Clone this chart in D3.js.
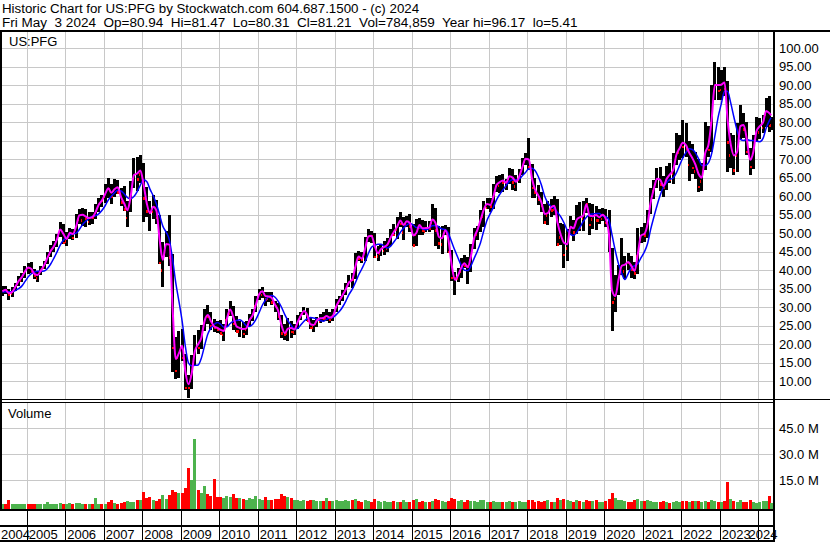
<!DOCTYPE html>
<html><head><meta charset="utf-8">
<script src="https://cdn.jsdelivr.net/npm/d3@7"></script>
<style>
html,body{margin:0;padding:0;background:#fff;}
svg{display:block;}
</style></head><body>
<svg id="c" width="830" height="543"></svg>
<script>
// ---- data (monthly, May 2004 .. May 2024) ----
const highs = [
35.6,35.8,35.0,35.4,36.6,38.4,39.2,41.2,
42.0,42.2,40.2,39.6,41.2,42.4,44.8,46.8,47.8,49.8,53.0,52.6,
50.2,51.4,51.2,55.2,56.6,56.8,56.4,55.6,55.8,58.0,59.6,60.4,
63.4,64.8,63.4,64.6,64.4,62.2,62.8,58.6,64.2,70.2,70.6,71.0,
69.0,62.6,58.6,60.4,59.0,55.0,47.6,50.6,54.8,44.5,22.0,23.6,
24.0,17.4,11.6,17.2,22.6,23.8,25.2,29.6,30.6,28.8,26.8,26.4,
26.6,25.4,29.4,31.6,30.4,27.6,26.4,26.0,26.2,28.2,29.4,33.0,
35.0,35.4,34.2,34.0,34.2,31.6,31.2,27.8,25.4,27.2,26.4,25.4,
27.8,28.8,30.0,29.8,27.2,26.6,27.4,28.2,28.6,29.4,28.6,29.4,
32.2,33.0,34.6,36.6,38.6,39.2,44.6,45.2,44.8,49.0,51.0,50.6,
50.0,46.6,47.0,48.0,48.6,51.2,52.6,54.4,55.8,54.4,54.6,55.2,
52.4,53.8,54.2,53.6,53.4,53.4,57.8,56.8,52.0,52.0,52.2,51.8,
45.4,39.6,40.6,43.4,44.2,43.6,47.2,51.4,52.0,56.2,58.8,59.6,
59.4,63.4,65.4,65.6,66.0,64.6,67.6,67.4,65.6,67.2,70.2,71.6,
75.6,68.6,64.8,63.0,61.0,58.0,58.6,59.2,60.0,59.2,52.8,52.4,
51.2,54.6,53.6,57.6,58.4,58.6,59.6,58.2,57.8,57.4,56.4,56.8,
56.4,56.2,46.0,38.6,41.4,48.6,43.8,44.6,43.8,42.2,51.4,51.6,
52.8,56.2,62.2,64.4,67.6,68.0,65.4,68.2,69.0,71.6,77.0,76.4,
80.6,79.8,75.0,74.0,72.0,70.0,69.0,80.0,79.0,90.0,96.2,95.0,
94.0,95.0,91.0,77.0,76.6,79.8,84.6,82.4,80.0,73.0,76.6,81.4,
81.2,82.0,86.4,87.0,81.5];
const lows = [
32.9,33.6,32.0,32.8,34.4,35.6,36.9,37.9,
39.0,39.2,37.6,36.8,38.6,40.2,41.6,43.6,44.8,46.2,49.0,47.0,
46.6,48.4,48.2,48.6,52.6,52.0,51.6,52.2,52.4,53.8,55.8,57.2,
58.2,59.6,58.0,59.8,60.6,57.4,56.0,51.6,55.8,62.2,61.4,63.6,
53.0,54.4,50.6,53.8,52.4,41.8,35.4,43.6,41.0,12.5,10.5,11.0,
15.6,7.6,5.4,8.0,14.2,17.4,18.6,23.6,25.6,23.8,23.2,23.0,
22.8,21.0,24.6,27.6,23.8,23.2,22.0,21.6,22.6,25.0,26.4,28.6,
32.0,32.6,30.2,31.4,30.6,28.6,26.6,21.6,21.2,20.8,21.8,22.4,
24.2,26.6,27.8,26.2,24.0,23.4,24.6,25.8,26.2,26.4,25.8,26.4,
28.8,30.6,31.8,33.2,35.4,35.2,37.6,42.4,42.0,42.6,47.6,47.4,
43.2,42.6,43.8,44.2,45.0,46.6,49.2,48.4,51.6,48.2,51.6,50.2,
46.4,46.4,49.6,49.6,50.2,50.2,50.8,46.6,45.6,44.4,49.4,44.6,
37.2,33.4,36.8,37.8,40.6,36.4,39.6,45.8,48.2,50.2,51.8,56.4,
55.8,56.6,61.2,60.8,61.2,61.6,63.4,61.6,61.4,63.6,65.6,68.4,
67.0,59.6,59.4,57.6,55.6,52.4,52.2,54.4,54.8,46.4,46.8,40.6,
42.4,49.6,47.8,49.8,50.6,50.6,55.4,49.6,51.0,50.8,52.4,53.2,
51.6,44.8,23.5,28.6,33.4,38.6,37.6,40.0,38.0,37.6,39.0,47.4,
47.6,48.6,55.2,59.2,62.2,61.4,59.8,61.6,63.6,63.4,68.4,69.8,
70.4,70.5,64.0,66.0,64.5,61.2,61.4,67.0,70.5,72.0,86.0,86.0,
86.0,87.0,66.5,67.5,65.6,66.4,75.5,75.8,71.0,65.8,67.4,74.6,
75.4,77.0,78.6,77.4,77.8];
const closes = [
34.7,34.6,33.4,34.9,36.0,37.9,38.2,40.9,
40.6,39.6,38.5,39.3,40.6,41.9,44.6,45.6,47.4,49.6,52.3,47.4,
49.5,50.9,48.8,54.6,55.1,55.6,53.9,54.4,54.3,56.5,59.0,58.7,
62.2,62.0,60.0,63.6,61.0,58.3,56.4,57.2,63.1,67.7,64.6,68.8,
59.4,55.9,55.7,58.4,54.1,42.0,45.0,49.3,43.5,19.0,12.8,22.6,
16.4,8.3,8.2,15.6,20.4,19.0,24.2,28.2,27.4,25.0,24.4,24.0,
23.0,24.6,29.2,29.3,25.6,23.5,25.6,22.8,25.8,27.0,28.7,32.6,
34.4,34.6,32.1,33.8,31.4,30.4,27.6,23.0,22.7,25.8,23.4,24.6,
27.3,28.5,29.5,26.3,24.4,26.2,26.9,27.1,26.9,27.9,26.6,28.5,
31.6,32.3,34.0,35.6,37.6,37.5,44.0,43.2,42.8,48.4,49.5,49.3,
43.6,45.6,46.0,46.9,47.0,50.5,49.6,54.0,52.5,52.9,53.5,51.9,
46.8,53.4,51.4,50.8,51.5,51.3,55.5,50.8,47.3,50.2,51.5,45.0,
38.0,37.8,39.4,42.0,41.2,41.1,46.6,51.0,51.5,56.0,57.8,57.9,
57.3,62.8,63.0,65.3,63.8,64.0,66.8,63.8,64.4,65.9,69.7,70.6,
67.8,62.3,61.0,59.2,57.5,52.9,57.9,56.2,58.6,47.0,51.6,44.2,
50.0,53.0,50.2,57.0,51.5,58.0,57.9,52.3,57.1,53.5,55.0,55.0,
52.8,45.4,31.3,36.4,38.5,41.5,42.4,42.0,40.3,39.2,49.2,49.6,
49.5,55.6,60.0,63.9,65.4,63.2,62.2,66.9,64.4,69.2,71.3,74.3,
73.3,72.6,73.4,67.6,69.6,62.6,67.2,74.0,72.5,88.0,91.0,88.4,
92.0,89.0,74.5,75.0,67.0,76.0,80.5,78.0,72.0,68.0,76.0,78.7,
79.6,80.5,86.0,79.0,81.2];
const maFast = [
34.3,34.7,33.8,34.1,35.5,37.0,38.1,39.6,
40.7,40.3,39.0,38.7,39.9,41.3,43.2,45.1,46.4,48.3,51.0,49.8,
48.4,50.1,49.8,51.8,54.8,55.0,54.5,54.1,54.3,55.6,57.7,58.8,
60.6,62.1,60.9,61.9,62.4,59.7,58.0,56.2,60.1,65.7,66.1,66.9,
63.1,57.9,55.4,57.1,56.1,48.2,42.8,47.1,46.9,30.3,16.0,17.6,
19.6,12.4,9.2,12.1,18.1,20.0,21.7,26.3,27.9,26.2,24.8,24.4,
23.9,23.6,26.9,29.4,27.3,24.8,24.4,24.1,24.3,26.5,27.9,30.7,
33.5,34.3,33.0,32.9,32.5,30.6,29.0,25.1,23.0,24.2,24.4,24.0,
26.0,27.8,29.0,27.9,25.4,25.2,26.4,27.0,27.1,27.6,27.2,27.7,
30.2,31.9,33.2,34.8,36.7,37.4,40.9,43.7,43.1,45.7,49.1,49.3,
46.5,44.6,45.7,46.3,46.9,48.8,50.3,51.7,53.4,52.2,53.2,52.7,
49.4,50.1,52.2,51.3,51.4,51.5,53.7,52.7,49.0,48.6,50.8,48.2,
41.4,37.4,38.6,40.7,41.9,40.8,43.7,48.7,50.9,53.6,56.4,57.9,
57.6,60.0,63.0,63.8,64.2,63.6,65.4,65.0,63.9,65.2,67.8,70.1,
69.9,64.7,61.8,60.2,58.3,55.2,55.4,57.0,57.4,52.8,49.5,47.4,
47.0,51.7,51.3,53.6,54.3,54.7,57.8,54.7,54.6,54.9,54.3,55.0,
53.9,49.6,34.5,33.0,37.4,41.2,41.5,42.2,41.1,39.8,44.5,49.4,
49.8,52.5,58.1,61.9,64.7,64.4,62.7,64.7,65.9,67.0,71.1,72.9,
74.4,73.7,71.8,70.3,68.5,65.9,65.0,71.6,73.8,80.5,90.0,90.0,
90.1,90.7,80.8,73.9,71.0,72.0,78.9,79.2,75.2,69.8,72.0,77.6,
78.9,79.9,83.0,82.4,81.8];
const maSlow = [
34.1,34.2,34.2,34.2,34.5,35.0,35.7,36.9,
38.2,39.1,39.5,39.7,39.7,39.8,40.4,41.6,43.2,44.9,46.8,48.1,
48.8,49.5,49.8,50.0,51.0,52.3,53.2,54.0,54.5,54.7,55.2,56.1,
57.4,59.0,60.0,60.9,61.6,61.4,60.6,59.6,59.3,59.9,61.2,63.0,
64.4,63.9,61.9,60.1,57.9,54.9,51.9,50.3,48.2,43.1,36.6,31.6,
26.1,19.2,15.0,14.2,14.3,14.4,16.2,19.6,22.8,24.4,25.4,25.9,
25.4,24.6,24.7,25.6,26.2,26.4,26.6,26.0,25.0,24.8,25.4,26.7,
28.6,30.6,31.9,32.9,33.2,32.7,31.6,30.0,28.0,26.4,25.1,24.1,
24.3,25.3,26.2,26.9,27.2,27.1,26.8,26.4,26.2,26.7,27.1,27.3,
28.0,28.9,30.0,31.6,33.4,34.8,36.6,38.7,40.4,42.2,44.5,46.2,
46.7,47.0,47.0,46.5,46.0,46.5,47.6,48.8,50.2,51.3,52.2,52.6,
52.2,51.5,51.5,51.1,50.9,51.3,52.0,52.1,51.7,51.1,51.0,49.9,
47.6,45.3,43.3,41.3,40.0,39.9,41.1,43.2,45.2,47.5,50.7,53.5,
55.3,57.1,59.0,60.5,61.7,62.9,64.0,64.4,64.4,64.6,65.5,66.4,
67.4,67.5,66.9,65.3,63.0,60.0,58.2,57.2,56.7,55.6,54.4,52.8,
50.8,49.7,49.4,50.2,51.6,53.1,54.3,55.0,55.2,55.3,55.3,54.7,
54.5,53.5,49.5,45.2,41.7,39.1,37.5,39.1,40.7,41.2,41.8,43.4,
44.9,47.2,50.9,54.3,57.4,60.3,62.4,63.7,64.5,64.9,66.3,68.3,
70.3,71.8,72.8,72.6,71.7,70.0,68.3,68.3,69.0,71.4,76.2,81.2,
84.9,88.3,88.3,85.1,81.3,77.7,75.3,75.0,75.3,75.0,75.0,74.8,
74.7,75.6,78.3,80.4,81.2];
// representative daily volume per month, millions of shares
const volumes = [
1.6,1.2,3.6,1.4,1.2,1.5,1.3,1.2,
1.4,1.2,1.3,1.6,1.1,1.2,2.5,1.3,1.4,1.6,1.8,1.4,
1.5,1.8,1.4,1.7,2.0,1.6,1.5,1.3,1.4,4.8,1.6,1.4,
1.6,2.2,3.6,1.8,1.5,1.8,2.4,3.2,2.6,2.4,3.8,3.4,
8.0,4.6,5.2,3.8,3.2,4.2,6.6,4.4,6.4,9.5,8.0,7.4,
7.6,10.5,22.0,15.0,39.0,9.5,7.5,12.0,7.0,6.0,16.0,5.6,
5.2,4.6,6.0,5.4,7.2,5.0,4.6,4.0,3.8,4.8,4.2,6.0,
4.2,3.8,5.6,3.6,3.4,4.0,4.4,7.0,6.2,5.4,4.6,3.8,
3.6,3.2,3.4,3.0,3.8,3.4,3.0,2.8,3.2,4.6,3.2,3.0,
3.4,3.2,2.8,3.6,3.0,3.8,4.2,2.8,2.6,3.8,2.8,2.6,
4.0,3.2,2.6,2.8,2.4,2.6,3.0,2.4,2.6,3.4,2.2,2.6,
3.4,4.2,2.4,2.8,2.2,2.6,3.0,4.0,3.6,3.2,2.4,3.0,
5.0,4.4,3.2,3.6,2.6,3.8,3.0,2.8,2.4,3.4,3.6,2.6,
2.6,3.0,2.6,2.4,2.2,2.4,3.2,2.4,2.2,2.8,2.4,2.2,
3.6,3.4,2.6,2.8,2.4,3.0,3.6,2.4,2.2,4.6,3.4,4.2,
3.8,2.8,2.6,3.4,2.8,2.6,3.6,3.0,2.8,3.6,2.6,2.4,
2.8,4.2,7.4,4.6,3.6,3.4,3.2,2.6,2.4,3.6,4.0,3.0,
3.2,3.8,2.8,2.6,2.4,2.6,2.8,2.2,2.0,2.6,2.8,2.4,
2.8,3.0,2.6,3.2,3.0,2.8,2.6,3.0,2.4,3.4,2.8,2.2,
2.4,3.0,14.0,4.0,3.0,2.6,3.6,2.4,2.2,3.4,2.6,2.0,
2.6,2.8,3.2,6.2,2.0];
const priceTicks = [10,15,20,25,30,35,40,45,50,55,60,65,70,75,80,85,90,95,100];
const volumeTicks = [15,30,45];
const yearTicks = [2004,2005,2006,2007,2008,2009,2010,2011,2012,2013,2014,2015,2016,2017,2018,2019,2020,2021,2022,2023,2024];
const headerLines = [
  "Historic Chart for US:PFG by Stockwatch.com 604.687.1500 - (c) 2024",
  "Fri May  3 2024  Op=80.94  Hi=81.47  Lo=80.31  Cl=81.21  Vol=784,859  Year hi=96.17  lo=5.41"
];
const headerWidths = [418, 576];
const symbolLabel = "US:PFG";
const volumeLabel = "Volume";

// ---- layout ----
const FONT = '"Liberation Sans", Arial, sans-serif';
const FS = 13.33, FA = 13;
const GRID = "#c8c8c8";
const PL = 2, PR = 773;              // plot left/right
const PT = 32, PB = 399;             // price panel
const VT = 403, VB = 509;            // volume panel
const months = d3.timeMonth.range(new Date(2004,4,1), new Date(2024,5,1));
const lastDay = new Date(2024,4,2);
const midDate = m => { const t = d3.timeDay.offset(m, 14); return t > lastDay ? lastDay : t; };

const x = d3.scaleTime().domain([new Date(2005,0,1), new Date(2024,0,1)]).range([26.7, 758.3]);
const y = d3.scaleLinear().domain([10,100]).range([381.3, 48]);
const vy = d3.scaleLinear().domain([0,45]).range([506.3, 428.3]);

const svg = d3.select("#c").attr("font-family", FONT);
svg.append("rect").attr("width",830).attr("height",543).attr("fill","#fff");

const defs = svg.append("defs");
defs.append("clipPath").attr("id","cp").append("rect").attr("x",PL).attr("y",PT).attr("width",PR-PL).attr("height",PB-PT);
defs.append("clipPath").attr("id","cv").append("rect").attr("x",PL).attr("y",VT).attr("width",PR-PL).attr("height",VB-VT);

// header: fit each line to the width it has in the reference
svg.append("g").selectAll("text").data(headerLines).join("text")
  .attr("x",2).attr("y",(d,i)=>13 + i*14.3)
  .attr("font-size",FS).attr("fill","#000")
  .attr("xml:space","preserve").style("white-space","pre")
  .text(d=>d)
  .each(function(d,i){
    const w = this.getBBox().width;
    if (w > 0) {
      const s = headerWidths[i] / w;
      d3.select(this).attr("transform", `translate(2,0) scale(${s},1) translate(-2,0)`);
    }
  });

// grid
const yearDates = yearTicks.map(yr => new Date(yr,0,1));
const innerYears = yearDates.filter(d=>x(d)>PL);
const gridG = svg.append("g").attr("shape-rendering","crispEdges");
gridG.selectAll("line.h").data(priceTicks).join("line")
  .attr("x1",PL).attr("x2",PR).attr("y1",d=>Math.round(y(d))+0.5).attr("y2",d=>Math.round(y(d))+0.5)
  .attr("stroke",GRID);
gridG.selectAll("line.vh").data(volumeTicks).join("line")
  .attr("x1",PL).attr("x2",PR).attr("y1",d=>Math.round(vy(d))+0.5).attr("y2",d=>Math.round(vy(d))+0.5)
  .attr("stroke",GRID);
gridG.selectAll("line.vp").data(innerYears).join("line")
  .attr("x1",d=>Math.round(x(d))+0.5).attr("x2",d=>Math.round(x(d))+0.5)
  .attr("y1",PT).attr("y2",PB).attr("stroke",GRID);
gridG.selectAll("line.vv").data(innerYears).join("line")
  .attr("x1",d=>Math.round(x(d))+0.5).attr("x2",d=>Math.round(x(d))+0.5)
  .attr("y1",VT).attr("y2",VB).attr("stroke",GRID);

// labels in panels
svg.append("text").attr("x",9).attr("y",46).attr("font-size",FA).attr("fill","#000").text(symbolLabel);
svg.append("text").attr("x",8).attr("y",418).attr("font-size",FA).attr("fill","#000").text(volumeLabel);

// price bars
const pg = svg.append("g").attr("clip-path","url(#cp)");
const bars = pg.append("g").attr("shape-rendering","crispEdges");
bars.selectAll("rect").data(months).join("rect")
  .attr("x",(m)=>x(midDate(m))-1.5).attr("width",3)
  .attr("y",(m,i)=>y(highs[i])).attr("height",(m,i)=>Math.max(1,y(lows[i])-y(highs[i])))
  .attr("fill","#000");
const downIdx = d3.range(months.length).filter(i => i>0 && closes[i] < closes[i-1]);
bars.selectAll("rect.dn").data(downIdx).join("rect")
  .attr("x",i=>x(midDate(months[i]))-0.5).attr("width",2)
  .attr("y",i=>y(closes[i])-1).attr("height",2.5).attr("fill","#ff0000");
const upIdx = d3.range(months.length).filter(i => i===0 || closes[i] >= closes[i-1]);
bars.selectAll("rect.up").data(upIdx).join("rect")
  .attr("x",i=>x(midDate(months[i]))-1.5).attr("width",1)
  .attr("y",i=>y((lows[i]+closes[i])/2)).attr("height",2.5).attr("fill","#ff0000");

const line = arr => d3.line().x((d,i)=>x(midDate(months[i]))).y(d=>y(d)).curve(d3.curveMonotoneX)(arr);
pg.append("path").attr("d",line(maSlow)).attr("fill","none").attr("stroke","#0000ff").attr("stroke-width",1.5);
pg.append("path").attr("d",line(maFast)).attr("fill","none").attr("stroke","#ff00ff").attr("stroke-width",2);

// volume bars
const vg = svg.append("g").attr("clip-path","url(#cv)").attr("shape-rendering","crispEdges");
vg.selectAll("rect").data(months).join("rect")
  .attr("x",m=>x(midDate(m))-1.5).attr("width",3)
  .attr("y",(m,i)=>vy(volumes[i])).attr("height",(m,i)=>VB - vy(volumes[i]))
  .attr("fill",(m,i)=> (i===0 || closes[i]>=closes[i-1]) ? "#4db34d" : "#ff0000");

// axes labels (right side)
const pAxis = svg.append("g").attr("transform","translate(779,0)")
  .call(d3.axisRight(y).tickValues(priceTicks).tickFormat(d3.format(".2f")).tickSize(0).tickPadding(0));
pAxis.select(".domain").remove();
pAxis.selectAll("text").attr("font-size",FA).attr("font-family",FONT).attr("fill","#000");
const vAxis = svg.append("g").attr("transform","translate(779,0)")
  .call(d3.axisRight(vy).tickValues(volumeTicks).tickFormat(d=>d.toFixed(1)+" M").tickSize(0).tickPadding(0));
vAxis.select(".domain").remove();
vAxis.selectAll("text").attr("font-size",FA).attr("font-family",FONT).attr("fill","#000");

// year band dividers
svg.append("g").attr("shape-rendering","crispEdges").selectAll("line").data(innerYears).join("line")
  .attr("x1",d=>Math.round(x(d))+0.5).attr("x2",d=>Math.round(x(d))+0.5)
  .attr("y1",510).attr("y2",541).attr("stroke","#000");

// frame lines
const fr = svg.append("g").attr("fill","#000").attr("shape-rendering","crispEdges");
fr.append("rect").attr("x",0).attr("y",30).attr("width",830).attr("height",2);
fr.append("rect").attr("x",0).attr("y",30).attr("width",2).attr("height",480);
fr.append("rect").attr("x",773).attr("y",30).attr("width",2).attr("height",512);
fr.append("rect").attr("x",0).attr("y",399).attr("width",830).attr("height",1);
fr.append("rect").attr("x",0).attr("y",402).attr("width",775).attr("height",1);
fr.append("rect").attr("x",0).attr("y",509).attr("width",775).attr("height",2);
fr.append("rect").attr("x",0).attr("y",525).attr("width",775).attr("height",2);
fr.append("rect").attr("x",0).attr("y",540).attr("width",775).attr("height",2);

// year labels
const xAxis = svg.append("g").attr("transform","translate(0,527)")
  .call(d3.axisBottom(x).tickValues(yearDates).tickFormat(d3.timeFormat("%Y")).tickSize(0).tickPadding(0));
xAxis.select(".domain").remove();
xAxis.selectAll("text").attr("font-size",FA).attr("font-family",FONT).attr("fill","#000")
  .attr("text-anchor","start").attr("dy",0).attr("y",12.3)
  .each(function(d){
    const len = this.getComputedTextLength();
    const rel = Math.min(Math.max(1.5, 0.5 - x(d)), 777 - len - x(d));
    d3.select(this).attr("x", rel);
  });
</script>
</body></html>
